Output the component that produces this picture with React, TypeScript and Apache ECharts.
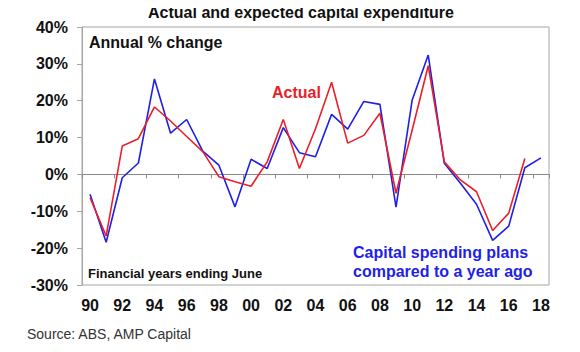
import React, { useEffect, useRef } from "react";
import * as echarts from "echarts";

const years = [
  "1990", "1991", "1992", "1993", "1994", "1995", "1996", "1997", "1998", "1999",
  "2000", "2001", "2002", "2003", "2004", "2005", "2006", "2007", "2008", "2009",
  "2010", "2011", "2012", "2013", "2014", "2015", "2016", "2017", "2018",
];
const actual = [
  -6.3, -16.7, 7.7, 9.7, 18.3, 14.5, 10.3, 6.2, -0.6, -2.0,
  -3.2, 3.4, 14.9, 1.6, 12.4, 25.0, 8.5, 10.6, 16.6, -5.1,
  12.0, 29.5, 3.4, -1.5, -4.7, -15.2, -10.5, 4.3, null,
];
const plans = [
  -5.4, -18.4, -0.9, 3.1, 25.9, 11.2, 14.9, 6.3, 2.5, -8.8,
  4.1, 1.6, 12.7, 5.9, 4.8, 16.3, 12.3, 19.8, 19.0, -8.9,
  20.1, 32.4, 3.0, -2.4, -8.1, -17.9, -14.0, 1.8, 4.5,
];
const yTicks = { min: -30, max: 40, interval: 10 };

const FONT = "'Liberation Sans', Arial, sans-serif";

export default function App() {
  const ref = useRef<HTMLDivElement>(null);
  useEffect(() => {
    if (!ref.current) return;
    const chart = echarts.init(ref.current, undefined, { renderer: "svg" });
    chart.setOption({
      animation: false,
      backgroundColor: "#ffffff",
      textStyle: { fontFamily: FONT },
      grid: {
        left: 82,
        right: 31,
        top: 27,
        bottom: 67,
        show: true,
        borderColor: "#a6a6a6",
        borderWidth: 1,
      },
      xAxis: [
        {
          type: "category",
          data: years,
          boundaryGap: true,
          position: "bottom",
          axisLine: { onZero: true, lineStyle: { color: "#8a8a8a", width: 1 } },
          axisTick: { show: true, interval: 1, length: 4, lineStyle: { color: "#8a8a8a" } },
          axisLabel: { show: false },
          splitLine: { show: false },
        },
        {
          type: "category",
          data: years,
          boundaryGap: true,
          position: "bottom",
          axisLine: { show: false, onZero: false },
          axisTick: { show: false },
          axisLabel: {
            interval: 1,
            margin: 12,
            fontSize: 16,
            fontWeight: "bold",
            color: "#111",
            fontFamily: FONT,
            formatter: (v: string) => v.slice(2),
          },
          splitLine: { show: false },
        },
      ],
      yAxis: {
        type: "value",
        min: yTicks.min,
        max: yTicks.max,
        interval: yTicks.interval,
        axisLine: { show: true, lineStyle: { color: "#a6a6a6" } },
        axisTick: { show: true, length: 5, lineStyle: { color: "#a6a6a6" } },
        splitLine: { show: false },
        axisLabel: {
          formatter: "{value}%",
          margin: 14,
          fontSize: 16,
          fontWeight: "bold",
          color: "#111",
          fontFamily: FONT,
        },
      },
      series: [
        {
          name: "Actual",
          type: "line",
          data: actual,
          xAxisIndex: 0,
          symbol: "none",
          lineStyle: { color: "#e8202a", width: 1.6 },
          z: 3,
        },
        {
          name: "Plans",
          type: "line",
          data: plans,
          xAxisIndex: 0,
          symbol: "none",
          lineStyle: { color: "#1f1fe6", width: 1.6 },
          z: 2,
        },
      ],
      graphic: [
        {
          type: "text",
          x: 301,
          y: 4,
          style: {
            text: "Actual and expected capital expenditure",
            font: `bold 16px ${FONT}`,
            fill: "#111",
            textAlign: "center",
          },
        },
        {
          type: "text",
          x: 89,
          y: 34,
          style: { text: "Annual % change", font: `bold 16px ${FONT}`, fill: "#111" },
        },
        {
          type: "text",
          x: 272,
          y: 84,
          style: { text: "Actual", font: `bold 16px ${FONT}`, fill: "#e8202a" },
        },
        {
          type: "text",
          x: 353,
          y: 243,
          style: {
            text: "Capital spending plans\ncompared to a year ago",
            font: `bold 16px ${FONT}`,
            fill: "#1f1fe6",
            lineHeight: 19,
          },
        },
        {
          type: "text",
          x: 88,
          y: 267,
          style: { text: "Financial years ending June", font: `bold 13px ${FONT}`, fill: "#111" },
        },
        {
          type: "text",
          x: 27,
          y: 327,
          style: { text: "Source: ABS, AMP Capital", font: `14px ${FONT}`, fill: "#333" },
        },
      ],
    });
    return () => chart.dispose();
  }, []);
  return <div ref={ref} style={{ width: 580, height: 352, margin: -8 }} />;
}
